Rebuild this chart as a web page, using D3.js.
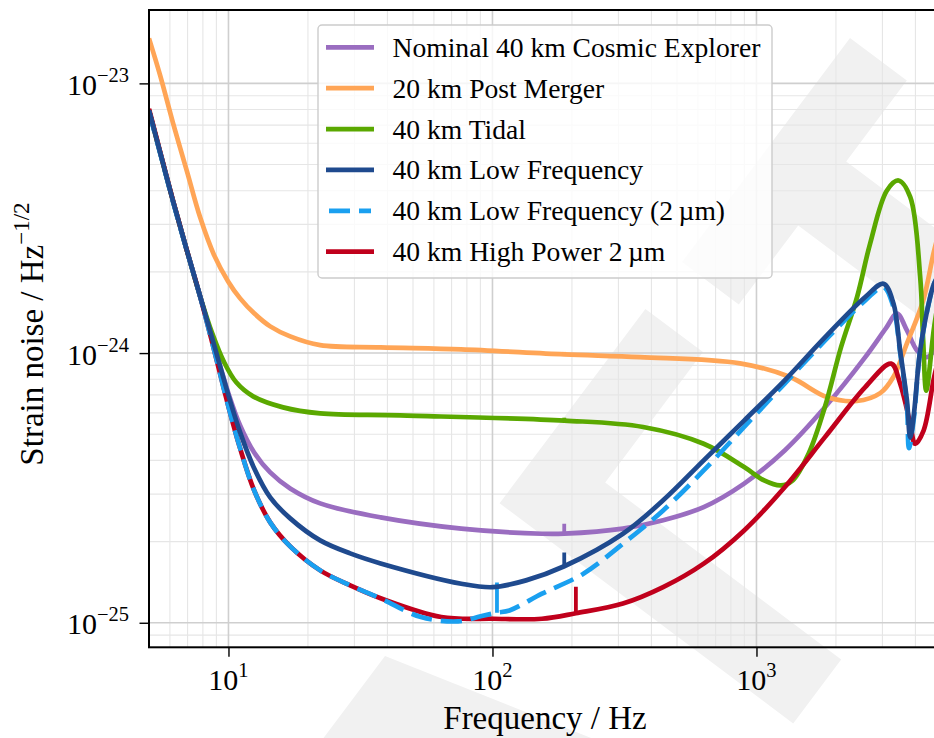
<!DOCTYPE html>
<html><head><meta charset="utf-8">
<script src="https://cdn.jsdelivr.net/npm/d3@7"></script>
<style>
body{margin:0;background:#fff}
svg{display:block}
text{font-family:"Liberation Serif","Times New Roman",serif;fill:#000}
</style>
</head><body>
<svg id="chart" width="934" height="738"></svg>
<script>
// ---------------- data ----------------
const freqDomain = [5, 5000];
const strainDomain = [8.11e-26, 1.871e-23];
const xTickValues = [10, 100, 1000];
const xTickExponents = ["1", "2", "3"];
const yTickValues = [1e-25, 1e-24, 1e-23];
const yTickExponents = ["\u221225", "\u221224", "\u221223"];

const seriesLabels = [
  "Nominal 40 km Cosmic Explorer",
  "20 km Post Merger",
  "40 km Tidal",
  "40 km Low Frequency",
  "40 km Low Frequency (2\u2009\u00b5m)",
  "40 km High Power 2\u2009\u00b5m"
];

const nominal40 = [
  [5,7.94e-24],[5.56,5.36e-24],[6.17,3.65e-24],[6.92,2.445e-24],[7.81,1.623e-24],[8.83,1.068e-24],
  [9.97,7.15e-25],[11.07,5.39e-25],[12.51,4.28e-25],[14.39,3.61e-25],[17.13,3.149e-25],[22.25,2.772e-25],
  [37.7,2.459e-25],[76.2,2.234e-25],[154,2.138e-25],[187,2.14e-25],[312,2.234e-25],[443,2.399e-25],
  [631,2.685e-25],[898,3.281e-25],[1279,4.355e-25],[1820,6.31e-25],[2582,9.66e-25],[3100,1.24e-24],
  [3405,1.40e-24],[3715,1.213e-24],[4055,1.023e-24],[4420,9.66e-25],[4710,1.023e-24],[5000,1.164e-24]
];
const postMerger20 = [
  [5,1.469e-23],[5.51,1.071e-23],[6.17,7.11e-24],[6.98,4.677e-24],[7.81,3.186e-24],[8.83,2.303e-24],
  [9.97,1.844e-24],[11.07,1.595e-24],[12.51,1.404e-24],[14.39,1.256e-24],[17.13,1.153e-24],[22.25,1.07e-24],
  [37.7,1.05e-24],[76,1.032e-24],[187,9.89e-25],[362,9.66e-25],[866,9.16e-25],[1340,8.15e-25],
  [1848,6.87e-25],[2400,6.64e-25],[2942,7.10e-25],[3296,8.13e-25],[3715,1.086e-24],[4280,1.567e-24],
  [4710,2.40e-24],[5000,2.97e-24]
];
const tidal40 = [
  [5,7.94e-24],[5.56,5.36e-24],[6.17,3.65e-24],[6.92,2.445e-24],[7.81,1.623e-24],[8.68,1.183e-24],
  [9.63,9.24e-25],[10.7,7.79e-25],[12.4,6.91e-25],[16.1,6.29e-25],[22.25,5.975e-25],[44.7,5.87e-25],
  [187,5.62e-25],[372,5.32e-25],[631,4.61e-25],[898,3.78e-25],[1069,3.37e-25],[1235,3.23e-25],
  [1371,3.37e-25],[1578,4.25e-25],[1816,6.31e-25],[2091,1.052e-24],[2405,1.614e-24],[2696,2.553e-24],
  [3120,4.009e-24],[3452,4.365e-24],[3822,3.793e-24],[4170,1.914e-24],[4280,1.114e-24],[4396,7.26e-25],
  [4710,1.25e-24],[5000,1.778e-24]
];
const lowFreq40 = [
  [5,7.94e-24],[5.56,5.36e-24],[6.17,3.65e-24],[6.92,2.445e-24],[7.81,1.623e-24],[8.83,1.068e-24],
  [9.97,7.03e-25],[11.07,5.08e-25],[12.51,3.74e-25],[14.39,2.917e-25],[17.13,2.438e-25],[22.25,2.02e-25],
  [28.9,1.808e-25],[37.7,1.66e-25],[76.2,1.396e-25],[100,1.355e-25],[134,1.436e-25],[187,1.62e-25],
  [312,2.138e-25],[443,2.844e-25],[631,4.0e-25],[898,5.62e-25],[1279,7.92e-25],[1820,1.146e-24],
  [2582,1.614e-24],[3029,1.807e-24],[3303,1.528e-24],[3500,1.023e-24],[3715,6.68e-25],[3822,4.86e-25],
  [3936,5.79e-25],[4170,1.023e-24],[4550,1.614e-24],[4710,1.811e-24],[5000,2.0e-24]
];
const lowFreq40Micron2 = [
  [5,7.85e-24],[5.56,5.33e-24],[6.17,3.63e-24],[6.92,2.44e-24],[7.81,1.62e-24],[8.83,1.023e-24],
  [9.97,6.40e-25],[11.07,4.43e-25],[12.51,3.096e-25],[14.39,2.357e-25],[17.13,1.92e-25],[22.25,1.564e-25],
  [28.9,1.376e-25],[37.7,1.232e-25],[53.6,1.05e-25],[74.1,1.012e-25],[90.2,1.057e-25],[104,1.09e-25],
  [116,1.111e-25],[154,1.282e-25],[221,1.52e-25],[312,1.963e-25],[443,2.61e-25],[631,3.67e-25],
  [898,5.32e-25],[1279,7.71e-25],[1820,1.114e-24],[2582,1.567e-24],[3029,1.758e-24],[3296,1.49e-24],
  [3500,1.007e-24],[3715,6.40e-25],[3780,4.44e-25],[3936,5.62e-25],[4170,1.023e-24],[4550,1.614e-24],
  [4710,1.811e-24],[5000,2.03e-24]
];
const highPower40Micron2 = [
  [5,8.05e-24],[5.56,5.40e-24],[6.17,3.67e-24],[6.92,2.45e-24],[7.81,1.623e-24],[8.83,1.023e-24],
  [9.97,6.40e-25],[11.07,4.43e-25],[12.51,3.096e-25],[14.39,2.357e-25],[17.13,1.92e-25],[22.25,1.564e-25],
  [28.9,1.376e-25],[37.7,1.232e-25],[64,1.05e-25],[101,1.035e-25],[154,1.035e-25],[207,1.085e-25],
  [312,1.178e-25],[443,1.355e-25],[631,1.656e-25],[898,2.20e-25],[1279,3.18e-25],[1820,4.89e-25],
  [2582,7.48e-25],[3236,9.14e-25],[3500,7.71e-25],[3822,5.48e-25],[3990,4.61e-25],[4295,5.16e-25],
  [4710,8.15e-25],[5000,1.023e-24]
];

// narrow line features: [series index, frequency, peak strain]
const lineSpikes = [
  [0, 187, 2.33e-25],
  [1, 187, 1.01e-24],
  [2, 187, 5.76e-25],
  [3, 187, 1.82e-25],
  [4, 104, 1.41e-25],
  [5, 207, 1.36e-25]
];

const seriesData = [nominal40, postMerger20, tidal40, lowFreq40, lowFreq40Micron2, highPower40Micron2];
const seriesColors = ["#9a6dc0", "#ffa556", "#5aa800", "#1f4a8e", "#1aa0f0", "#c0001c"];
const seriesDashes = [null, null, null, null, "21,9", null];
const drawOrder = [0, 1, 2, 5, 4, 3];

// ---------------- layout ----------------
const svg = d3.select("#chart");
const M = {left: 149, top: 10, right: 941, bottom: 647.3};
const x = d3.scaleLog().domain(freqDomain).range([M.left, M.right]);
const y = d3.scaleLog().domain(strainDomain).range([M.bottom, M.top]);
const LW = 4.7;

// watermark (logo) geometry in page pixels
const u = [0.6, -0.8], v = [0.8, 0.6];
const pt = (o, a, b) => [o[0] + a*u[0] + b*v[0], o[1] + a*u[1] + b*v[1]];
const OA = [499.6, 503.3], OB = [682, 262], OC = [385, 656];
const logo = [
  [pt(OA,0,0), pt(OA,243,0), pt(OA,243,72), pt(OA,80,72), pt(OA,80,367), pt(OA,0,367)],
  [pt(OB,0,0), pt(OB,280,0), pt(OB,280,71), pt(OB,179,71), pt(OB,179,420), pt(OB,99,420), pt(OB,99,71), pt(OB,0,71)],
  [OC, [OC[0]-0.6*200, OC[1]+0.8*200], [OC[0]+0.93*420, OC[1]+0.37*420]]
];
svg.append("g").selectAll("path").data(logo).join("path")
  .attr("d", p => "M" + p.map(q => q.join(",")).join("L") + "Z")
  .attr("fill", "#f1f1f1");

// grid
const xMinor = [];
[1, 10, 100, 1000].forEach(d => { for (let k = 2; k <= 9; k++) { const f = d*k; if (f >= 5 && f <= 5000) xMinor.push(f); } });
const yMinor = [];
[1e-26, 1e-25, 1e-24, 1e-23].forEach(d => { for (let k = 2; k <= 9; k++) { const s = d*k; if (s >= strainDomain[0] && s <= strainDomain[1]) yMinor.push(s); } });

const grid = svg.append("g");
grid.selectAll(".xm").data(xMinor).join("line")
  .attr("x1", d => x(d)).attr("x2", d => x(d)).attr("y1", M.top).attr("y2", M.bottom)
  .attr("stroke", "#e6e6e6").attr("stroke-width", 1.1);
grid.selectAll(".ym").data(yMinor).join("line")
  .attr("y1", d => y(d)).attr("y2", d => y(d)).attr("x1", M.left).attr("x2", M.right)
  .attr("stroke", "#e6e6e6").attr("stroke-width", 1.1);
grid.selectAll(".xM").data(xTickValues).join("line")
  .attr("x1", d => x(d)).attr("x2", d => x(d)).attr("y1", M.top).attr("y2", M.bottom)
  .attr("stroke", "#cfcfcf").attr("stroke-width", 1.6);
grid.selectAll(".yM").data(yTickValues).join("line")
  .attr("y1", d => y(d)).attr("y2", d => y(d)).attr("x1", M.left).attr("x2", M.right)
  .attr("stroke", "#cfcfcf").attr("stroke-width", 1.6);

// curves
svg.append("defs").append("clipPath").attr("id", "clip")
  .append("rect").attr("x", M.left).attr("y", M.top).attr("width", M.right - M.left).attr("height", M.bottom - M.top);
const line = d3.line().x(d => x(d[0])).y(d => y(d[1])).curve(d3.curveCatmullRom.alpha(0.5));
const curves = svg.append("g").attr("clip-path", "url(#clip)");

// base value of a series at frequency f (log-log interpolation between neighbouring points)
function baseAt(data, f) {
  const i = d3.bisector(d => d[0]).left(data, f);
  if (i <= 0) return data[0][1];
  if (i >= data.length) return data[data.length-1][1];
  const a = data[i-1], b = data[i];
  const t = (Math.log(f) - Math.log(a[0])) / (Math.log(b[0]) - Math.log(a[0]));
  return Math.exp(Math.log(a[1]) + t * (Math.log(b[1]) - Math.log(a[1])));
}

drawOrder.forEach(i => {
  curves.append("path").datum(seriesData[i])
    .attr("d", line).attr("fill", "none")
    .attr("stroke", seriesColors[i]).attr("stroke-width", LW)
    .attr("stroke-linejoin", "round")
    .attr("stroke-dasharray", seriesDashes[i]);
  lineSpikes.filter(s => s[0] === i).forEach(s => {
    const b = baseAt(seriesData[i], s[1]);
    curves.append("line")
      .attr("x1", x(s[1])).attr("x2", x(s[1]))
      .attr("y1", y(b)).attr("y2", y(s[2]))
      .attr("stroke", seriesColors[i]).attr("stroke-width", 3.8);
  });
});

// axes
const xAxis = d3.axisBottom(x).tickValues(xTickValues).tickSize(9.5).tickFormat("");
const xAxisMinor = d3.axisBottom(x).tickValues(xMinor).tickSize(6).tickFormat("");
const yAxis = d3.axisLeft(y).tickValues(yTickValues).tickSize(9.5).tickFormat("");
const yAxisMinor = d3.axisLeft(y).tickValues(yMinor).tickSize(6).tickFormat("");
const gx = svg.append("g").attr("transform", `translate(0,${M.bottom})`);
gx.call(xAxisMinor); gx.call(xAxis);
const gy = svg.append("g").attr("transform", `translate(${M.left},0)`);
gy.call(yAxisMinor); gy.call(yAxis);
[gx, gy].forEach(g => { g.select(".domain").remove(); g.selectAll(".tick line").attr("stroke", "#000").attr("stroke-width", 1.4); });
gx.selectAll(".tick line").filter(d => !xTickValues.includes(d)).attr("stroke-width", 1.1);
gy.selectAll(".tick line").filter(d => !yTickValues.includes(d)).attr("stroke-width", 1.1);

// tick labels
xTickValues.forEach((d, i) => {
  const t = svg.append("text").attr("x", x(d)).attr("y", 690).attr("text-anchor", "middle").attr("font-size", 30);
  t.append("tspan").text("10");
  t.append("tspan").attr("dy", -13).attr("font-size", 20.5).text(xTickExponents[i]);
});
yTickValues.forEach((d, i) => {
  const t = svg.append("text").attr("x", 129).attr("y", y(d) + 11.5).attr("text-anchor", "end").attr("font-size", 30);
  t.append("tspan").text("10");
  t.append("tspan").attr("dy", -13).attr("font-size", 20.5).text(yTickExponents[i]);
});

// spines
svg.append("rect").attr("x", M.left).attr("y", M.top).attr("width", M.right - M.left).attr("height", M.bottom - M.top)
  .attr("fill", "none").attr("stroke", "#000").attr("stroke-width", 2);

// axis labels
svg.append("text").attr("x", (M.left + M.right)/2).attr("y", 729).attr("text-anchor", "middle")
  .attr("font-size", 33).text("Frequency / Hz");
const yl = svg.append("text").attr("transform", "translate(43,334) rotate(-90)").attr("text-anchor", "middle").attr("font-size", 33);
yl.append("tspan").text("Strain noise / Hz");
yl.append("tspan").attr("dy", -14).attr("font-size", 23).text("\u22121/2");

// legend
const lg = svg.append("g");
lg.append("rect").attr("x", 318).attr("y", 25).attr("width", 454).attr("height", 253).attr("rx", 4)
  .attr("fill", "#fff").attr("fill-opacity", 0.8).attr("stroke", "#cccccc").attr("stroke-width", 1.4);
const rowY = d3.scaleLinear().domain([0, 5]).range([47.3, 251.7]);
seriesLabels.forEach((lab, i) => {
  const dashed = !!seriesDashes[i];
  lg.append("line").attr("x1", dashed ? 329 : 326).attr("x2", dashed ? 371 : 374).attr("y1", rowY(i)).attr("y2", rowY(i))
    .attr("stroke", seriesColors[i]).attr("stroke-width", LW).attr("stroke-dasharray", seriesDashes[i]);
  lg.append("text").attr("x", 392.5).attr("y", rowY(i) + 9.5).attr("font-size", 27.6).text(lab);
});
</script>
</body></html>
